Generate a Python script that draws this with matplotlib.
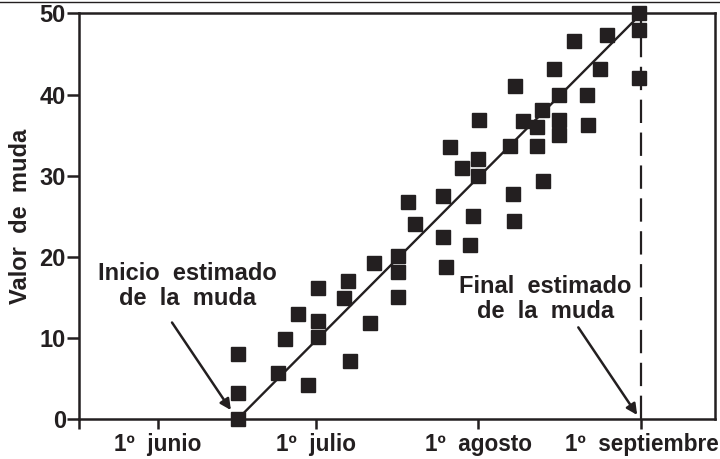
import matplotlib.pyplot as plt
from matplotlib.lines import Line2D

# days counted from 1 June
month_days = [0, 30, 61, 92]
month_labels = ["1º  junio", "1º  julio", "1º  agosto", "1º  septiembre"]

day = [15.2, 15.2, 15.2, 22.9, 24.2, 26.7, 28.6, 30.5, 30.5, 30.5,
       35.4, 36.2, 36.6, 40.4, 41.1, 45.7, 45.7, 45.7, 47.6, 49.0,
       54.3, 54.3, 54.9, 55.6, 57.9, 59.4, 60.0, 61.0, 61.0, 61.1,
       67.0, 67.6, 67.8, 68.0, 69.5, 72.2, 72.2, 73.0, 73.3, 75.4,
       76.4, 76.4, 76.4, 79.2, 81.7, 81.9, 84.2, 85.5, 91.6, 91.6, 91.6]
muda = [0.0, 3.2, 8.0, 5.7, 9.9, 12.9, 4.2, 16.1, 12.1, 10.1,
        14.9, 17.0, 7.1, 11.8, 19.2, 20.1, 18.1, 15.0, 26.7, 24.0,
        27.5, 22.4, 18.7, 33.5, 30.9, 21.4, 25.0, 30.0, 32.0, 36.9,
        33.7, 27.8, 24.4, 41.0, 36.8, 33.7, 36.0, 38.1, 29.4, 43.2,
        40.0, 36.9, 35.0, 46.6, 40.0, 36.3, 43.1, 47.4, 50.0, 48.0, 42.0]

start_day, end_day = 15.2, 92
fit_x = [start_day, end_day]
fit_y = [0, 50]

ink = '#231f20'
fs = 17
plt.rcParams['font.family'] = ['Liberation Sans', 'DejaVu Sans']
plt.rcParams['font.weight'] = 'bold'
plt.rcParams['axes.labelweight'] = 'bold'

fig = plt.figure(figsize=(7.2, 4.59), dpi=100)
ax = fig.add_axes([0.1097, 0.0871, 0.8833, 0.8835])

ax.plot(day, muda, 's', color=ink, ms=9.5, clip_on=False, zorder=3)
ax.plot(fit_x, fit_y, '-', color=ink, lw=1.7, zorder=2)
ax.axvline(end_day, color=ink, lw=1.6, dashes=(10.5, 4.3), zorder=1)

ax.set_xlim(-15, 106)
ax.set_ylim(0, 50)
ax.set_xticks([-15] + month_days)
ax.set_xticklabels([""] + month_labels)
ax.set_yticks(range(0, 51, 10))
ax.tick_params(axis='both', colors=ink, width=1.8, labelsize=fs)
ax.tick_params(axis='x', labelsize=16.3)
ax.tick_params(axis='y', length=8.5, pad=1)
ax.tick_params(axis='x', length=7, pad=3)
for s in ax.spines.values():
    s.set_linewidth(1.8)
    s.set_color(ink)
ax.set_ylabel("Valor  de  muda", fontsize=fs, color=ink, labelpad=5)

arrow = dict(arrowstyle='-|>', color=ink, lw=1.8, mutation_scale=16, shrinkA=0, shrinkB=0)
ax.annotate("", xy=(13.9, 1.1), xytext=(2.7, 11.9), arrowprops=arrow)
ax.annotate("", xy=(91.2, 0.5), xytext=(80, 11.3), arrowprops=arrow)
ax.text(5.7, 16.4, "Inicio  estimado\nde  la  muda", ha='center', va='center',
        fontsize=fs, color=ink, linespacing=1.12)
ax.text(73.7, 14.8, "Final  estimado\nde  la  muda", ha='center', va='center',
        fontsize=fs, color=ink, linespacing=1.12)

fig.add_artist(Line2D([0, 1], [0.995, 0.995], color=ink, lw=1.0))

fig.savefig("out.png", dpi=100)
